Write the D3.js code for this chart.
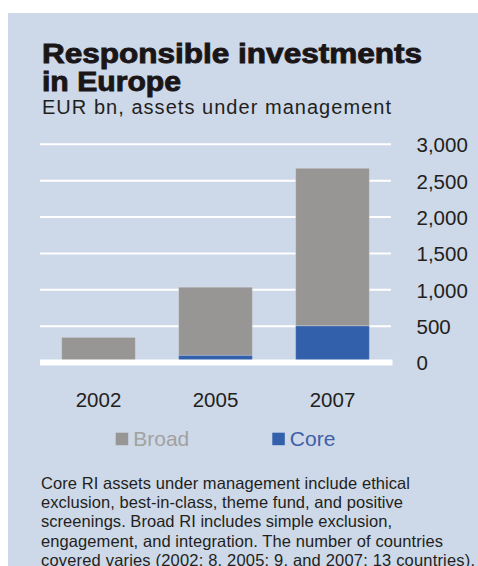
<!DOCTYPE html>
<html>
<head>
<meta charset="utf-8">
<script src="https://cdn.jsdelivr.net/npm/d3@7"></script>
<style>
  body { margin: 0; background: #fff; }
  svg { display: block; font-family: 'Liberation Sans', Arial, sans-serif; }
</style>
</head>
<body>
<svg id="chart" width="478" height="566"></svg>
<script>
const years = ['2002', '2005', '2007']
const core = [30, 100, 505]
const broad = [315, 935, 2165]
const yTicks = [0, 500, 1000, 1500, 2000, 2500, 3000]
const seriesNames = ['Broad', 'Core']
const noteLines = [
  'Core RI assets under management  include ethical',
  'exclusion, best-in-class, theme fund, and positive',
  'screenings. Broad RI includes simple exclusion,',
  'engagement, and integration. The number of countries',
  'covered varies (2002: 8, 2005: 9, and 2007: 13 countries).'
]
const noteWidths = [369, 362, 351, 402, 434]

const colors = { Broad: '#979694', Core: '#3360ab' }
const ink = '#231f20'

const svg = d3.select('#chart')

// panel background
svg.append('rect')
  .attr('x', 8).attr('y', 13)
  .attr('width', 470).attr('height', 553)
  .style('fill', '#cdd8e8')

// titles
svg.append('text')
  .attr('x', 42).attr('y', 62.5)
  .attr('textLength', 380).attr('lengthAdjust', 'spacingAndGlyphs')
  .style('font-size', '27px').style('font-weight', 700)
  .style('fill', '#1a1617').style('stroke', '#1a1617').style('stroke-width', 0.9)
  .text('Responsible investments')
svg.append('text')
  .attr('x', 42).attr('y', 91)
  .attr('textLength', 139).attr('lengthAdjust', 'spacingAndGlyphs')
  .style('font-size', '27px').style('font-weight', 700)
  .style('fill', '#1a1617').style('stroke', '#1a1617').style('stroke-width', 0.9)
  .text('in Europe')
svg.append('text')
  .attr('x', 42).attr('y', 113.5)
  .attr('textLength', 349)
  .style('font-size', '20px').style('fill', ink)
  .text('EUR bn, assets under management')

const x = d3.scaleBand()
  .domain(years)
  .range([40, 391])
  .paddingInner(0.37)
  .paddingOuter(0.185)

const y = d3.scaleLinear()
  .domain([0, 3000])
  .range([362.5, 144.3])

const chart = svg.append('g')

// gridlines
chart.selectAll('.grid')
  .data(yTicks.filter(d => d > 0))
  .enter()
  .append('line')
  .classed('grid', true)
  .attr('x1', 40).attr('x2', 391)
  .attr('y1', d => y(d)).attr('y2', d => y(d))
  .style('stroke', '#fff')
  .style('stroke-width', 2)

// stacked bars
const rows = years.map((yr, i) => ({ year: yr, Core: core[i], Broad: broad[i] }))
const stack = d3.stack().keys(['Core', 'Broad'])(rows)

chart.selectAll('.series')
  .data(stack)
  .enter()
  .append('g')
  .classed('series', true)
  .style('fill', d => colors[d.key])
  .selectAll('rect')
  .data(d => d)
  .enter()
  .append('rect')
  .attr('x', d => x(d.data.year))
  .attr('width', x.bandwidth())
  .attr('y', d => y(d[1]))
  .attr('height', d => y(d[0]) - y(d[1]))
  .style('stroke', 'rgba(255,255,255,0.22)')
  .style('stroke-width', 1)

// baseline
chart.append('line')
  .attr('x1', 40).attr('x2', 392.5)
  .attr('y1', y(0)).attr('y2', y(0))
  .style('stroke', '#fff')
  .style('stroke-width', 6)

// y axis on the right
const yAxis = d3.axisRight(y)
  .tickValues(yTicks)
  .tickSize(0)
  .tickPadding(0)
  .tickFormat(d3.format(','))

const yg = chart.append('g')
  .attr('transform', 'translate(416.5,0)')
  .call(yAxis)
yg.select('.domain').remove()
yg.selectAll('text')
  .attr('dy', '0.36em')
  .style('font-family', "'Liberation Sans', Arial, sans-serif")
  .style('font-size', '20.5px')
  .style('fill', ink)

// x axis
const xAxis = d3.axisBottom(x).tickSize(0).tickPadding(0)
const xg = chart.append('g')
  .attr('transform', 'translate(0,407.3)')
  .call(xAxis)
xg.select('.domain').remove()
xg.selectAll('text')
  .attr('dy', 0)
  .style('font-family', "'Liberation Sans', Arial, sans-serif")
  .style('font-size', '20.5px')
  .style('fill', ink)

// legend
const legendPos = { Broad: 115.7, Core: 272.3 }
const legendText = { Broad: '#a2a2a0', Core: '#3d5fa8' }
const legend = svg.selectAll('.legend')
  .data(seriesNames)
  .enter()
  .append('g')
  .classed('legend', true)
  .attr('transform', d => `translate(${legendPos[d]},0)`)
legend.append('rect')
  .attr('x', 0).attr('y', 432.7)
  .attr('width', 12.5).attr('height', 12.5)
  .style('fill', d => colors[d])
legend.append('text')
  .attr('x', 17.5).attr('y', 446)
  .style('font-size', '21px')
  .style('fill', d => legendText[d])
  .text(d => d)

// footnote
svg.selectAll('.note')
  .data(noteLines)
  .enter()
  .append('text')
  .classed('note', true)
  .attr('x', 41)
  .attr('y', (d, i) => 489 + i * 19.2)
  .attr('textLength', (d, i) => noteWidths[i])
  .style('font-size', '16.5px')
  .style('fill', ink)
  .text(d => d)
</script>
</body>
</html>
